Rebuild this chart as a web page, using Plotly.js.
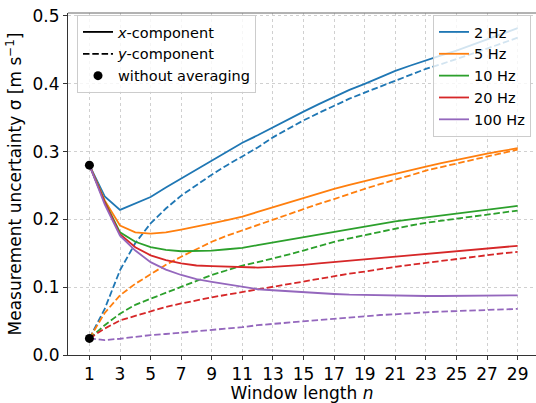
<!DOCTYPE html>
<html>
<head>
<meta charset="utf-8">
<script src="https://cdn.plot.ly/plotly-3.0.1.min.js"></script>
<style>html,body{margin:0;padding:0;background:#fff;}#chart{width:536px;height:403px;}</style>
</head>
<body>
<div id="chart"></div>
<script>
// Window length n
const windowLength = [1,2,3,4,5,6,7,8,9,10,11,12,13,14,15,16,17,18,19,20,21,22,23,24,25,26,27,28,29];
const xTicks = [1,3,5,7,9,11,13,15,17,19,21,23,25,27,29];
const yTicks = [0.0,0.1,0.2,0.3,0.4,0.5];

const frequencies = ["2 Hz","5 Hz","10 Hz","20 Hz","100 Hz"];
const colors = ["#1f77b4","#ff7f0e","#2ca02c","#d62728","#9467bd"];

// x-component uncertainty (solid)
const x2Hz   = [0.280,0.234,0.214,0.223,0.233,0.247,0.260,0.273,0.287,0.300,0.313,0.324,0.336,0.348,0.359,0.370,0.381,0.391,0.400,0.410,0.419,0.427,0.435,0.442,0.449,0.457,0.465,0.473,0.482];
const x5Hz   = [0.280,0.228,0.191,0.181,0.179,0.181,0.185,0.189,0.194,0.199,0.204,0.211,0.218,0.225,0.232,0.238,0.245,0.251,0.257,0.262,0.267,0.273,0.278,0.283,0.288,0.293,0.297,0.301,0.305];
const x10Hz  = [0.280,0.226,0.181,0.167,0.159,0.155,0.153,0.153,0.154,0.156,0.158,0.162,0.166,0.170,0.174,0.178,0.182,0.186,0.189,0.193,0.197,0.200,0.203,0.206,0.208,0.211,0.214,0.217,0.220];
const x20Hz  = [0.280,0.225,0.178,0.159,0.147,0.140,0.135,0.132,0.131,0.130,0.129,0.129,0.130,0.131,0.133,0.135,0.137,0.139,0.141,0.143,0.145,0.146,0.148,0.150,0.153,0.155,0.157,0.159,0.161];
const x100Hz = [0.280,0.222,0.176,0.154,0.137,0.126,0.118,0.112,0.108,0.104,0.100,0.097,0.0955,0.094,0.092,0.091,0.090,0.089,0.0885,0.088,0.0873,0.087,0.087,0.087,0.087,0.087,0.087,0.0875,0.088];

// y-component uncertainty (dashed)
const y2Hz   = [0.0245,0.068,0.125,0.165,0.194,0.216,0.235,0.251,0.266,0.280,0.293,0.306,0.321,0.334,0.346,0.357,0.368,0.378,0.387,0.396,0.404,0.413,0.422,0.429,0.436,0.444,0.452,0.460,0.468];
const y5Hz   = [0.0245,0.062,0.088,0.105,0.119,0.133,0.145,0.156,0.167,0.176,0.184,0.192,0.200,0.208,0.215,0.223,0.230,0.238,0.245,0.252,0.258,0.265,0.272,0.277,0.282,0.287,0.292,0.298,0.303];
const y10Hz  = [0.0245,0.044,0.061,0.074,0.083,0.092,0.101,0.110,0.118,0.125,0.132,0.137,0.142,0.148,0.154,0.161,0.167,0.172,0.177,0.182,0.186,0.191,0.195,0.198,0.201,0.204,0.207,0.210,0.213];
const y20Hz  = [0.0245,0.039,0.051,0.058,0.065,0.071,0.076,0.081,0.085,0.089,0.093,0.097,0.100,0.104,0.108,0.112,0.116,0.120,0.123,0.127,0.130,0.133,0.136,0.139,0.141,0.144,0.147,0.150,0.152];
const y100Hz = [0.0245,0.022,0.024,0.027,0.0294,0.031,0.033,0.035,0.036,0.038,0.041,0.044,0.046,0.048,0.050,0.052,0.054,0.056,0.058,0.059,0.060,0.062,0.063,0.064,0.065,0.066,0.067,0.068,0.068];

// Without averaging
const rawN = [1,1];
const rawSigma = [0.280,0.0245];

const xSeries = [x2Hz,x5Hz,x10Hz,x20Hz,x100Hz];
const ySeries = [y2Hz,y5Hz,y10Hz,y20Hz,y100Hz];

const FONT = "DejaVu Sans, sans-serif";
const LW = 1.8;
const DASH = "6.5px,2.8px";
const traces = [];

// black legend-only entries (legend 1)
traces.push({x:[null],y:[null],mode:"lines",line:{color:"black",width:LW},name:"<i>x</i>-component",legend:"legend",hoverinfo:"skip"});
traces.push({x:[null],y:[null],mode:"lines",line:{color:"black",width:LW,dash:DASH},name:"<i>y</i>-component",legend:"legend",hoverinfo:"skip"});

for (let i=0;i<frequencies.length;i++){
  traces.push({x:windowLength,y:ySeries[i],mode:"lines",line:{color:colors[i],width:LW,dash:DASH},showlegend:false,name:frequencies[i]+" y"});
}
for (let i=0;i<frequencies.length;i++){
  traces.push({x:windowLength,y:xSeries[i],mode:"lines",line:{color:colors[i],width:LW},name:frequencies[i],legend:"legend2"});
}
traces.push({x:rawN,y:rawSigma,mode:"markers",marker:{color:"black",size:9},name:"without averaging",legend:"legend",cliponaxis:false});

const W=536,H=403,ml=68,mr=0,mt=13,mb=48;
const pw=W-ml-mr, ph=H-mt-mb;

const legendCommon = {bgcolor:"rgba(255,255,255,0.8)",bordercolor:"#cccccc",borderwidth:1,font:{family:FONT,size:14.5,color:"black"},tracegroupgap:0,traceorder:"normal",itemwidth:30};

const layout = {
  width:W,height:H,
  margin:{l:ml,r:mr,t:mt,b:mb,pad:0},
  paper_bgcolor:"white",plot_bgcolor:"white",
  font:{family:FONT,size:17,color:"black"},
  showlegend:true,
  xaxis:{range:[-0.4,30.2],tickvals:xTicks,ticktext:xTicks.map(String),ticks:"outside",ticklen:4,tickcolor:"#333",
    showline:true,linecolor:"#333",linewidth:1,mirror:false,
    showgrid:true,gridcolor:"#d0d0d0",griddash:"dot",gridwidth:1,zeroline:false,
    tickfont:{family:FONT,size:17,color:"black"},
    title:{text:"Window length <i>n</i>",font:{family:FONT,size:17,color:"black"},standoff:4},automargin:false},
  yaxis:{range:[0,0.5044],tickvals:yTicks,ticktext:yTicks.map(v=>v.toFixed(1)),ticks:"outside",ticklen:4,tickcolor:"#333",
    showline:true,linecolor:"#333",linewidth:1,mirror:false,
    showgrid:true,gridcolor:"#d0d0d0",griddash:"dot",gridwidth:1,zeroline:false,
    tickfont:{family:FONT,size:17,color:"black"},
    title:{text:"Measurement uncertainty σ [m s<sup>−1</sup>]",font:{family:FONT,size:17,color:"black"},standoff:6},automargin:false},
  legend:Object.assign({},legendCommon,{x:(77-ml)/pw,y:(H-mb-15)/ph,xanchor:"left",yanchor:"top"}),
  legend2:Object.assign({},legendCommon,{x:(531-ml)/pw,y:(H-mb-15)/ph,xanchor:"right",yanchor:"top"}),
  shapes:[{type:"line",xref:"paper",yref:"paper",x0:0,x1:1,y0:1,y1:1,line:{color:"#666",width:1}}]
};

Plotly.newPlot("chart",traces,layout,{staticPlot:true,displayModeBar:false});
</script>
</body>
</html>
